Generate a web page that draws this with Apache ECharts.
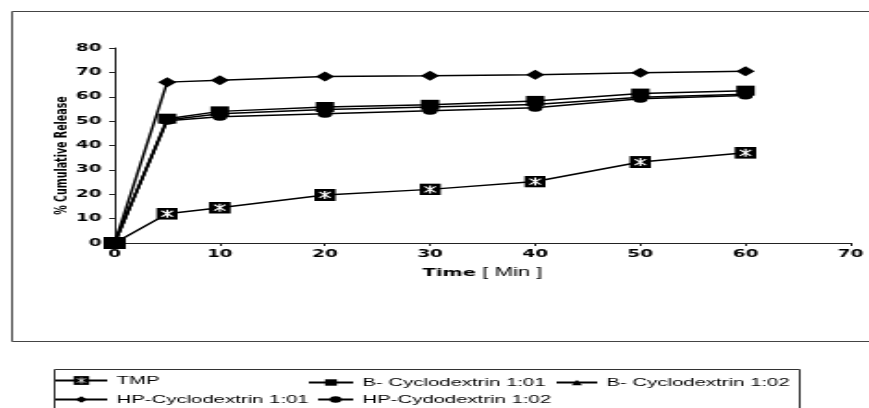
<!DOCTYPE html>
<html>
<head>
<meta charset="utf-8">
<script src="https://cdn.jsdelivr.net/npm/echarts@6/dist/echarts.min.js"></script>
<style>
html,body{margin:0;padding:0;background:#fff;overflow:hidden;width:869px;height:408px;}
#chart{width:470px;height:408px;transform:scaleX(1.849);transform-origin:0 0;}
</style>
</head>
<body>
<div id="chart"></div>
<script>
// Data
const times = [0, 5, 10, 20, 30, 40, 50, 60];
const xTicks = [0, 10, 20, 30, 40, 50, 60, 70];
const yTicks = [0, 10, 20, 30, 40, 50, 60, 70, 80];
const seriesNames = ['TMP', 'B- Cyclodextrin 1:01', 'B- Cyclodextrin 1:02', 'HP-Cyclodextrin 1:01', 'HP-Cydodextrin 1:02'];
const tmp = [0, 12, 14.5, 19.7, 22, 25.2, 33.2, 37];
const bcd101 = [0, 51, 54, 55.8, 56.7, 58.3, 61.3, 62.5];
const bcd102 = [0, 50.5, 53, 54.8, 55.8, 56.8, 59.8, 61];
const hp101 = [0, 66, 66.8, 68.3, 68.6, 69, 69.8, 70.5];
const hp102 = [0, 50.2, 51.8, 53, 54.3, 55.5, 59.2, 60.5];

const tmpSymbol = 'image://data:image/svg+xml;charset=utf-8,' + encodeURIComponent(
  "<svg xmlns='http://www.w3.org/2000/svg' width='24' height='24' viewBox='0 0 12 12'>" +
  "<rect width='12' height='12' fill='black'/>" +
  "<path d='M3 3L9 9M9 3L3 9M6 2V10' stroke='white' stroke-width='1.1' fill='none'/></svg>");

function pairs(vals) { return times.map((t, i) => [t, vals[i]]); }

const lineStyle = { color: '#000', width: 1.5 };
function mk(name, vals, symbol, size) {
  return {
    name: name, type: 'line', data: pairs(vals), symbol: symbol, symbolSize: size,
    lineStyle: lineStyle, itemStyle: { color: '#000' }, showSymbol: true
  };
}

const legendText = { fontFamily: 'Liberation Sans', fontSize: 11, color: '#000' };
function lg(name, left, top, w, h) {
  return { data: [name], left: left, top: top, itemWidth: w, itemHeight: h,
    padding: 0, textStyle: legendText, selectedMode: false };
}

const tickFont = { fontFamily: 'DejaVu Sans', fontWeight: 'bold', fontSize: 10, color: '#000' };

const chart = echarts.init(document.getElementById('chart'));
chart.setOption({
  animation: false,
  backgroundColor: '#fff',
  grid: { left: 62, right: 9, top: 48, bottom: 165, containLabel: false },
  xAxis: {
    type: 'value', min: xTicks[0], max: xTicks[xTicks.length - 1], interval: 10,
    name: '{b|Time} [ Min ]', nameLocation: 'middle', nameGap: 24, nameMoveOverlap: false,
    nameTextStyle: {
      fontFamily: 'Liberation Sans', fontSize: 12, color: '#000',
      rich: { b: { fontFamily: 'DejaVu Sans', fontWeight: 'bold', fontSize: 10.5, color: '#000' } }
    },
    axisLine: { lineStyle: { color: '#222', width: 1 } },
    axisTick: { show: true, length: 3, lineStyle: { color: '#222' } },
    axisLabel: Object.assign({ margin: 6 }, tickFont),
    splitLine: { show: false }
  },
  yAxis: {
    type: 'value', min: yTicks[0], max: yTicks[yTicks.length - 1], interval: 10,
    name: '% Cumulative Release', nameLocation: 'middle', nameGap: 23, nameRotate: 90, nameMoveOverlap: false,
    nameTextStyle: { fontFamily: 'DejaVu Sans', fontWeight: 'bold', fontSize: 9.5, color: '#000', padding: [0, 20, 0, 0] },
    axisLine: { show: true, lineStyle: { color: '#222', width: 1 } },
    axisTick: { show: true, length: 3, lineStyle: { color: '#222' } },
    axisLabel: Object.assign({ margin: 7 }, tickFont),
    splitLine: { show: false }
  },
  legend: [
    lg(seriesNames[0], 29, 375, 28, 11),
    lg(seriesNames[1], 166, 377, 24, 8),
    lg(seriesNames[2], 300, 377, 22, 7),
    lg(seriesNames[3], 29, 394, 28, 8),
    lg(seriesNames[4], 171, 394, 19, 8)
  ],
  graphic: [
    { type: 'rect', shape: { x: 6.5, y: 11.5, width: 480, height: 330 }, style: { fill: 'none', stroke: '#444', lineWidth: 1 }, silent: true, z: -1 },
    { type: 'rect', shape: { x: 29.5, y: 369.5, width: 403, height: 60 }, style: { fill: 'none', stroke: '#333', lineWidth: 1 }, silent: true, z: -1 }
  ],
  series: [
    mk(seriesNames[0], tmp, tmpSymbol, 12),
    mk(seriesNames[1], bcd101, 'rect', 10),
    mk(seriesNames[2], bcd102, 'triangle', 7),
    mk(seriesNames[3], hp101, 'diamond', 10),
    mk(seriesNames[4], hp102, 'circle', 8)
  ]
});
</script>
</body>
</html>
